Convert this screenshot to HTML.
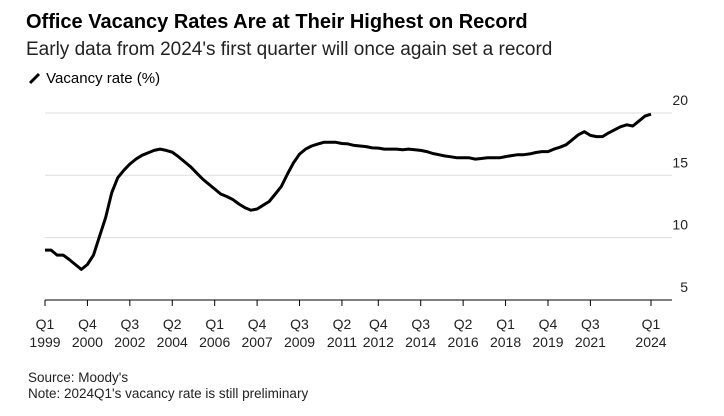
<!DOCTYPE html>
<html><head><meta charset="utf-8"><style>
body{margin:0;background:#fff;font-family:"Liberation Sans",sans-serif;color:#000}
#wrap{position:relative;width:724px;height:416px;overflow:hidden}
.t{position:absolute;white-space:nowrap}
</style></head><body><div id="wrap">
<div class="t" style="left:26px;top:11px;font-size:20px;font-weight:bold">Office Vacancy Rates Are at Their Highest on Record</div>
<div class="t" style="left:26px;top:39px;font-size:19px;color:#222">Early data from 2024's first quarter will once again set a record</div>
<div class="t" style="left:28px;top:70px;font-size:15px"><svg width="14" height="14" style="vertical-align:-2px"><line x1="2" y1="12" x2="11" y2="3" stroke="#000" stroke-width="3"/></svg> Vacancy rate (%)</div>
<svg id="c" width="724" height="416" style="position:absolute;left:0;top:0"></svg>
<div class="t" style="left:28px;top:370px;font-size:13.5px;color:#222">Source: Moody's</div>
<div class="t" style="left:28px;top:386px;font-size:13.5px;color:#222">Note: 2024Q1's vacancy rate is still preliminary</div>
</div>
<script>
const values=[9.0,9.0,8.6,8.6,8.25,7.85,7.45,7.85,8.6,10.1,11.6,13.6,14.8,15.4,15.9,16.3,16.6,16.8,17.0,17.1,17.0,16.85,16.5,16.1,15.7,15.2,14.7,14.3,13.9,13.5,13.3,13.05,12.7,12.4,12.2,12.3,12.6,12.9,13.5,14.1,15.1,16.0,16.7,17.1,17.35,17.5,17.65,17.65,17.65,17.55,17.52,17.4,17.35,17.3,17.2,17.18,17.1,17.1,17.1,17.05,17.1,17.05,17.0,16.9,16.75,16.65,16.55,16.48,16.4,16.4,16.4,16.3,16.35,16.4,16.4,16.4,16.5,16.58,16.65,16.65,16.72,16.83,16.9,16.9,17.1,17.25,17.45,17.85,18.25,18.5,18.2,18.1,18.1,18.4,18.65,18.9,19.05,18.95,19.35,19.75,19.9];
const tickIdx=[0,7,14,21,28,35,42,49,55,62,69,76,83,90,100];
const tickQ=["Q1","Q4","Q3","Q2","Q1","Q4","Q3","Q2","Q4","Q3","Q2","Q1","Q4","Q3","Q1"];
const tickY=["1999","2000","2002","2004","2006","2007","2009","2011","2012","2014","2016","2018","2019","2021","2024"];
const yTicks=[5,10,15,20];
const svg=document.getElementById('c');const NS='http://www.w3.org/2000/svg';
const x=i=>45+i*6.06, y=v=>300-(v-5)*12.47;
function mk(t,a){const e=document.createElementNS(NS,t);for(const k in a)e.setAttribute(k,a[k]);svg.appendChild(e);return e;}
yTicks.forEach(v=>{
 if(v>5){const g=mk('line',{x1:45,x2:672,y1:y(v),y2:y(v),stroke:'#ddd','stroke-width':1});
 
 }
 const t=mk('text',{x:688,y:y(v)-8,'text-anchor':'end','font-size':14,fill:'#222'});t.textContent=v;
 
 
});
const ax=mk('line',{x1:45,x2:672,y1:300,y2:300,stroke:'#000','stroke-width':1});


tickIdx.forEach((i,k)=>{
 const tk=mk('line',{x1:x(i),x2:x(i),y1:300,y2:306,stroke:'#000'});
 
 
 const a=mk('text',{x:x(i),y:329,'text-anchor':'middle','font-size':14,fill:'#222'});a.textContent=tickQ[k];
 
 
 const b=mk('text',{x:x(i),y:347,'text-anchor':'middle','font-size':14,fill:'#222'});b.textContent=tickY[k];
 
 
});
const p=mk('path',{d:values.map((v,i)=>(i?'L':'M')+x(i).toFixed(1)+','+y(v).toFixed(1)).join(''),fill:'none',stroke:'#000','stroke-width':3,'stroke-linejoin':'round'});


</script></body></html>
